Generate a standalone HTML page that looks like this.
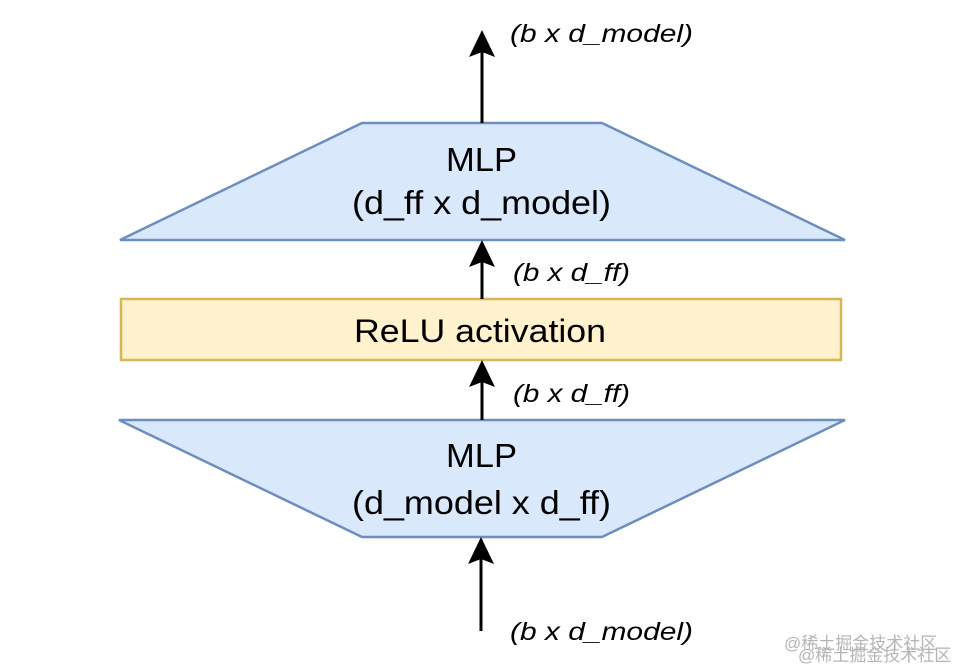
<!DOCTYPE html>
<html><head><meta charset="utf-8"><style>
html,body{margin:0;padding:0;background:#fff;}
svg{display:block;}
</style></head><body>
<svg width="963" height="672" viewBox="0 0 963 672" xmlns="http://www.w3.org/2000/svg">
<g font-family="Liberation Sans, Arial, sans-serif" fill="#000">
<!-- top trapezoid -->
<polygon points="362,123 602,123 845,240 120,240" fill="#dae8fc" stroke="#6c8ebf" stroke-width="2.5"/>
<!-- relu rect -->
<rect x="121" y="299" width="720" height="61" fill="#fff2cc" stroke="#d6b656" stroke-width="2.5"/>
<!-- bottom trapezoid -->
<polygon points="119,420 845,420 602,537 362,537" fill="#dae8fc" stroke="#6c8ebf" stroke-width="2.5"/>

<!-- arrows -->
<g stroke="#000" stroke-width="3">
<line x1="482" y1="123" x2="482" y2="50"/>
<line x1="482" y1="299" x2="482" y2="262"/>
<line x1="482" y1="420" x2="482" y2="382"/>
<line x1="481" y1="631" x2="481" y2="558"/>
</g>
<polygon points="482,30 469,57 482,52 495,57"/>
<polygon points="482,240 469,267 482,262 495,267"/>
<polygon points="482,360 469,387 482,382 495,387"/>
<polygon points="481,537 468,564 481,559 494,564"/>

<!-- box texts -->
<text x="446" y="171" font-size="33" textLength="71" lengthAdjust="spacingAndGlyphs">MLP</text>
<text x="352" y="214" font-size="33" textLength="259" lengthAdjust="spacingAndGlyphs">(d_ff x d_model)</text>
<text x="354" y="342" font-size="32" textLength="252" lengthAdjust="spacingAndGlyphs">ReLU activation</text>
<text x="446" y="467" font-size="33" textLength="71" lengthAdjust="spacingAndGlyphs">MLP</text>
<text x="352" y="514" font-size="33" textLength="259" lengthAdjust="spacingAndGlyphs">(d_model x d_ff)</text>

<!-- labels -->
<g font-style="italic" font-size="25">
<text x="510" y="42" textLength="183" lengthAdjust="spacingAndGlyphs">(b x d_model)</text>
<text x="513" y="281" textLength="117" lengthAdjust="spacingAndGlyphs">(b x d_ff)</text>
<text x="513" y="402" textLength="117" lengthAdjust="spacingAndGlyphs">(b x d_ff)</text>
<text x="510" y="640" textLength="183" lengthAdjust="spacingAndGlyphs">(b x d_model)</text>
</g>

<!-- watermark -->
<g font-family="Liberation Sans, 'Noto Sans CJK SC', sans-serif" font-size="17" fill="#b5b5b5">
<text x="784" y="649">@稀土掘金技术社区</text>
<text x="798" y="661">@稀土掘金技术社区</text>
</g>
</g>
</svg>
</body></html>
